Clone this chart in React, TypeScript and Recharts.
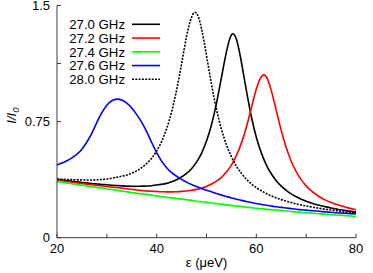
import React from 'react';
import { LineChart, Line, XAxis, YAxis, Legend } from 'recharts';

const EPS = [20,21,22,23,24,25,26,27,28,29,30,31,32,33,34,35,36,37,38,39,40,41,42,43,44,45,46,47,48,49,50,51,52,53,54,55,56,57,58,59,60,61,62,63,64,65,66,67,68,69,70,71,72,73,74,75,76,77,78,79,80];

const F270 = [.376,.372,.368,.364,.361,.357,.354,.350,.347,.344,.342,.339,.337,.335,.333,.332,.332,.333,.334,.336,.340,.345,.351,.361,.374,.392,.415,.446,.488,.545,.624,.730,.868,1.035,1.200,1.310,1.282,1.135,.952,.783,.649,.548,.471,.413,.368,.333,.306,.283,.264,.249,.236,.225,.215,.207,.199,.192,.186,.180,.175,.170,.165];

const F272 = [.371,.367,.363,.358,.354,.350,.346,.342,.338,.334,.331,.327,.324,.320,.316,.313,.308,.305,.302,.300,.298,.297,.296,.296,.297,.299,.302,.306,.312,.320,.331,.347,.365,.390,.424,.469,.530,.611,.714,.838,.960,1.040,1.040,.951,.822,.692,.582,.494,.427,.375,.335,.304,.279,.258,.241,.228,.216,.206,.196,.188,.181];

const F274 = [.362,.358,.353,.348,.343,.339,.334,.329,.324,.320,.315,.311,.306,.301,.296,.292,.287,.283,.279,.275,.270,.266,.261,.257,.253,.249,.245,.241,.236,.232,.228,.224,.220,.216,.212,.209,.205,.201,.197,.194,.190,.187,.184,.181,.178,.175,.172,.169,.166,.164,.161,.159,.156,.154,.151,.149,.147,.145,.142,.140,.137];

const F276 = [.470,.482,.497,.516,.540,.572,.618,.675,.745,.808,.856,.885,.895,.889,.869,.838,.795,.745,.685,.615,.550,.495,.452,.420,.397,.377,.359,.343,.330,.318,.307,.297,.285,.275,.266,.257,.249,.241,.234,.227,.221,.215,.210,.205,.200,.196,.192,.188,.184,.181,.178,.175,.172,.169,.166,.164,.161,.159,.157,.155,.153];

const F280 = [.380,.378,.376,.375,.374,.373,.373,.373,.374,.376,.379,.384,.391,.397,.405,.417,.432,.453,.479,.514,.560,.622,.704,.813,.954,1.124,1.300,1.425,1.450,1.350,1.177,.992,.830,.700,.600,.523,.463,.416,.378,.348,.323,.303,.285,.270,.257,.246,.236,.227,.218,.211,.205,.199,.193,.188,.183,.179,.175,.170,.166,.162,.158];

const SERIES_NAMES = ['27.0 GHz', '27.2 GHz', '27.4 GHz', '27.6 GHz', '28.0 GHz'];
const SERIES_KEYS = ['f270', 'f272', 'f274', 'f276', 'f280'];
const SERIES_COLORS = ['#000000', '#ff0000', '#00ff00', '#0000ff', '#000000'];
const SERIES_DASH = ['', '', '', '', '2 1.3'];
const SERIES_VALUES = [F270, F272, F274, F276, F280];

const X_TICKS = [20, 30, 40, 50, 60, 70, 80];
const X_LABELED = [20, 40, 60, 80];
const Y_TICKS = [0, 0.375, 0.75, 1.125, 1.5];
const Y_LABELED = [0, 0.75, 1.5];

const FONT = '"Liberation Sans", Arial, Helvetica, sans-serif';
const AXIS = '#3a3a3a';

const data = EPS.map((e, i) => {
  const row: Record<string, number> = { eps: e };
  SERIES_KEYS.forEach((k, j) => { row[k] = SERIES_VALUES[j][i]; });
  return row;
});

const YLabel = (props: any) => {
  const vb = props.viewBox || { x: 0, y: 0, width: 57, height: 232 };
  const x = vb.x + 16;
  const y = vb.y + vb.height / 2 - 6;
  return (
    <text x={x} y={y} transform={`rotate(-90 ${x} ${y})`} textAnchor="middle" fontSize={13} fontFamily={FONT} fontStyle="italic" fill="#000">
      I/I<tspan fontSize={9.5} dy={3}>0</tspan>
    </text>
  );
};

const XLabel = (props: any) => {
  const vb = props.viewBox || { x: 57, y: 237, width: 299, height: 35 };
  return (
    <text x={vb.x + vb.width / 2} y={vb.y + vb.height - 6} textAnchor="middle" fontSize={13} fontFamily={FONT} fill="#000">
      ε (μeV)
    </text>
  );
};

const LegendBox = () => (
  <svg width={110} height={75} style={{ display: 'block', overflow: 'visible' }}>
    {SERIES_NAMES.map((n, i) => {
      const cy = 9.3 + i * 13.75;
      return (
        <g key={n}>
          <text x={65} y={cy + 4.7} textAnchor="end" fontSize={13.2} fontFamily={FONT} fill="#000">{n}</text>
          <line x1={72} x2={100} y1={cy} y2={cy} stroke={SERIES_COLORS[i]} strokeWidth={1.6} strokeDasharray={SERIES_DASH[i] || undefined} />
        </g>
      );
    })}
  </svg>
);

export default function App() {
  return (
    <div style={{ position: 'absolute', left: 0, top: 0, width: 373, height: 273, background: '#fff' }}>
      <LineChart width={373} height={273} data={data} margin={{ top: 5.5, right: 17, left: 0, bottom: 0 }}>
        <XAxis
          dataKey="eps" type="number" domain={[20, 80]} ticks={X_TICKS} height={35.3}
          tickSize={-4} tickMargin={10} interval={0}
          tickFormatter={(v: number) => (X_LABELED.includes(v) ? String(v) : '')}
          tick={{ fontSize: 13, fill: '#000', fontFamily: FONT }}
          axisLine={{ stroke: AXIS }} tickLine={{ stroke: AXIS }}
          label={<XLabel />}
        />
        <XAxis
          xAxisId="top" orientation="top" dataKey="eps" type="number" domain={[20, 80]} ticks={X_TICKS} height={0}
          tickSize={-4} tick={false} interval={0}
          axisLine={{ stroke: AXIS }} tickLine={{ stroke: AXIS }}
        />
        <YAxis
          type="number" domain={[0, 1.5]} ticks={Y_TICKS} width={57}
          tickSize={-4} tickMargin={11} interval={0}
          tickFormatter={(v: number) => (Y_LABELED.includes(v) ? String(v) : '')}
          tick={{ fontSize: 13, fill: '#000', fontFamily: FONT }}
          axisLine={{ stroke: AXIS }} tickLine={{ stroke: AXIS }}
          label={<YLabel />}
        />
        <YAxis
          yAxisId="right" orientation="right" type="number" domain={[0, 1.5]} ticks={Y_TICKS} width={0}
          tickSize={-4} tick={false} interval={0}
          axisLine={{ stroke: AXIS }} tickLine={{ stroke: AXIS }}
        />
        <Legend
          layout="vertical" align="center" verticalAlign="middle"
          wrapperStyle={{ position: 'absolute', left: 60, top: 15, width: 110, height: 75 }}
          content={() => <LegendBox />}
        />
        {SERIES_KEYS.map((k, i) => (
          <Line
            key={k} dataKey={k} name={SERIES_NAMES[i]} type="natural"
            stroke={SERIES_COLORS[i]} strokeWidth={1.6}
            strokeDasharray={SERIES_DASH[i] || undefined}
            dot={false} activeDot={false} isAnimationActive={false}
          />
        ))}
      </LineChart>
    </div>
  );
}
